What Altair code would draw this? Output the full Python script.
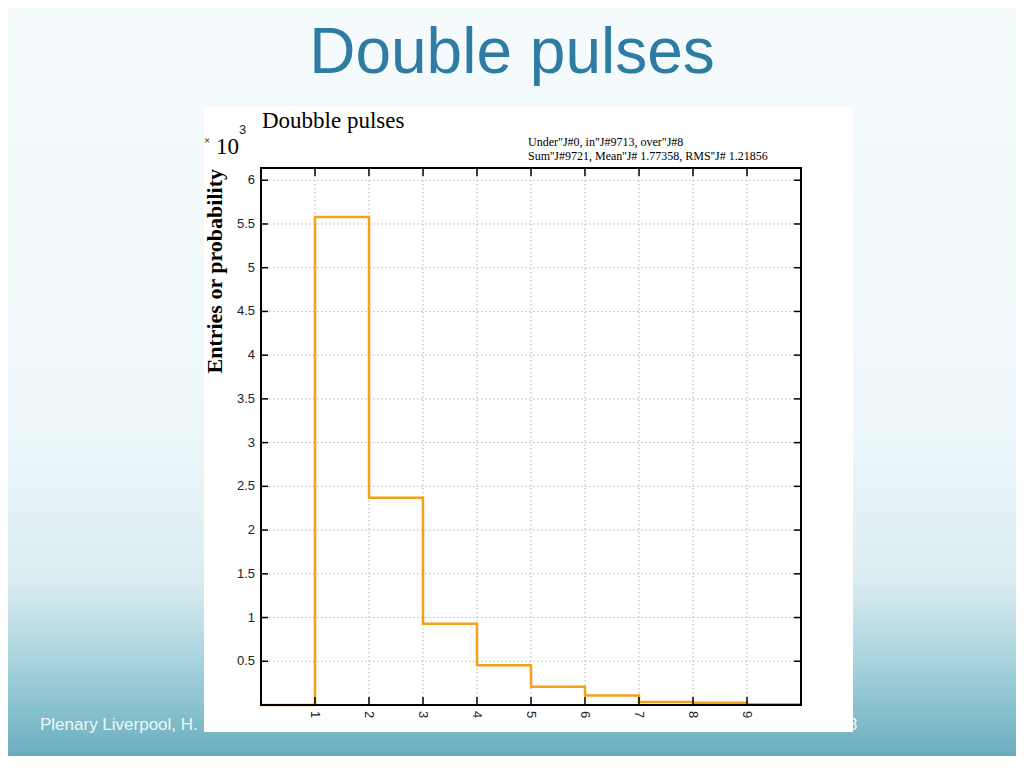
import altair as alt
import pandas as pd

# ---------------- data ----------------
bin_low = [0, 1, 2, 3, 4, 5, 6, 7, 8, 9]
bin_high = 10
entries_k = [0.0, 5.58, 2.37, 0.93, 0.455, 0.21, 0.11, 0.035, 0.025, 0.008]
x_ticks = [1, 2, 3, 4, 5, 6, 7, 8, 9]
x_tick_labels = ["1", "2", "3", "4", "5", "6", "7", "8", "9"]
y_ticks = [0.5, 1, 1.5, 2, 2.5, 3, 3.5, 4, 4.5, 5, 5.5, 6]
y_tick_labels = ["0.5", "1", "1.5", "2", "2.5", "3", "3.5", "4", "4.5", "5", "5.5", "6"]
x_domain = [0, 10]
y_domain = [0, 6.14]

slide_title = "Double pulses"
hist_title = "Doubble pulses"
y_title = "Entries or probability"
stats_line1 = 'Under"J#0, in"J#9713, over"J#8'
stats_line2 = "Sum''J#9721, Mean''J# 1.77358, RMS''J# 1.21856"
exp_mult = "×"
exp_base = "10"
exp_power = "3"
footer = "Plenary Liverpool, H."
page_no = "3"

# ---------------- layout ----------------
W, H = 540, 537          # plot frame
PAD = {"left": 253, "top": 160, "right": 215, "bottom": 51}
SERIF = "Liberation Serif, Times New Roman, serif"
SANS = "Liberation Sans, Arial, sans-serif"
NARROW = "Liberation Sans Narrow, Liberation Sans, Arial, sans-serif"

xscale = alt.Scale(domain=x_domain, nice=False, zero=False)
yscale = alt.Scale(domain=y_domain, nice=False, zero=False)

one = pd.DataFrame({"k": [0]})


def txt(text, x, y, **kw):
    d = pd.DataFrame({"t": [text]})
    kw.setdefault("baseline", "alphabetic")
    return alt.Chart(d).mark_text(**kw).encode(
        x=alt.value(x), y=alt.value(y), text="t:N")


bg = alt.Chart(one).mark_rect(
    fill=alt.Gradient(
        gradient="linear", x1=0, x2=0, y1=0, y2=1,
        stops=[
            alt.GradientStop(color="#f5fbfc", offset=0),
            alt.GradientStop(color="#eef8fa", offset=0.55),
            alt.GradientStop(color="#dcedf2", offset=0.76),
            alt.GradientStop(color="#b3d9e2", offset=0.85),
            alt.GradientStop(color="#8cc3d0", offset=0.93),
            alt.GradientStop(color="#6aadbf", offset=1),
        ],
    )
).encode(x=alt.value(-253), x2=alt.value(755), y=alt.value(-160), y2=alt.value(588))

foot = txt(footer, -221, 562, font=SANS, fontSize=17, color="#eef7f9", align="left")
pnum = txt(page_no, 587, 562, font=SANS, fontSize=17, color="#eef7f9", align="left")

white = alt.Chart(one).mark_rect(fill="white").encode(
    x=alt.value(-57), x2=alt.value(592), y=alt.value(-61), y2=alt.value(564))

title = txt(slide_title, 251, -95, font=SANS, fontSize=64, color="#2e7ca3",
            align="center")

gx = alt.Chart(pd.DataFrame({"v": x_ticks})).mark_rule(
    color="#b4b4b4", strokeWidth=1, strokeDash=[1.5, 2.5]
).encode(x=alt.X("v:Q", scale=xscale, axis=None), y=alt.value(0), y2=alt.value(H))

gy = alt.Chart(pd.DataFrame({"v": y_ticks})).mark_rule(
    color="#b4b4b4", strokeWidth=1, strokeDash=[1.5, 2.5]
).encode(y=alt.Y("v:Q", scale=yscale, axis=None), x=alt.value(0), x2=alt.value(W))

step = pd.DataFrame({
    "x": bin_low + [bin_high],
    "y": entries_k + [entries_k[-1]],
})
hist = alt.Chart(step).mark_line(
    interpolate="step-after", color="#f5a21b", strokeWidth=2.5
).encode(
    x=alt.X("x:Q", scale=xscale, axis=None),
    y=alt.Y("y:Q", scale=yscale, axis=None),
    order="x:Q",
)

frame = alt.Chart(one).mark_rect(
    fillOpacity=0, stroke="black", strokeWidth=2
).encode(x=alt.value(0), x2=alt.value(W), y=alt.value(0), y2=alt.value(H))

ydf = pd.DataFrame({"v": y_ticks, "lab": y_tick_labels})
xdf = pd.DataFrame({"v": x_ticks, "lab": x_tick_labels})
tl = alt.Chart(ydf).mark_rule(color="black", strokeWidth=1.5).encode(
    y=alt.Y("v:Q", scale=yscale, axis=None), x=alt.value(0), x2=alt.value(7))
tr = alt.Chart(ydf).mark_rule(color="black", strokeWidth=1.5).encode(
    y=alt.Y("v:Q", scale=yscale, axis=None), x=alt.value(W - 7), x2=alt.value(W))
tt = alt.Chart(xdf).mark_rule(color="black", strokeWidth=1.5).encode(
    x=alt.X("v:Q", scale=xscale, axis=None), y=alt.value(0), y2=alt.value(8))
tb = alt.Chart(xdf).mark_rule(color="black", strokeWidth=1.5).encode(
    x=alt.X("v:Q", scale=xscale, axis=None), y=alt.value(H - 8), y2=alt.value(H))

ylab = alt.Chart(ydf).mark_text(
    font=NARROW, fontSize=13, color="#222", align="right", baseline="middle"
).encode(y=alt.Y("v:Q", scale=yscale, axis=None), x=alt.value(-6), text="lab:N")
xlab = alt.Chart(xdf).mark_text(
    font=NARROW, fontSize=13, color="#222", align="left", baseline="middle", angle=90
).encode(x=alt.X("v:Q", scale=xscale, axis=None), y=alt.value(H + 6), text="lab:N")

htitle = txt(hist_title, 1, -40, font=SERIF, fontSize=23, color="black", align="left")
e1 = txt(exp_mult, -57, -24, font=SERIF, fontSize=11, color="black", align="left")
e2 = txt(exp_base, -45, -14, font=SERIF, fontSize=23, color="black", align="left")
e3 = txt(exp_power, -22, -34, font=SANS, fontSize=13, color="#222", align="left")
s1 = txt(stats_line1, 267, -22, font=SERIF, fontSize=12, color="black", align="left")
s2 = txt(stats_line2, 267, -8, font=SERIF, fontSize=12, color="black", align="left")
ytl = txt(y_title, -39, 1, font=SERIF, fontSize=22, fontWeight="bold", color="black",
          align="right", angle=270)

chart = alt.layer(
    bg, foot, pnum, white, title, gx, gy, hist, frame, tl, tr, tt, tb,
    ylab, xlab, htitle, e1, e2, e3, s1, s2, ytl,
).properties(
    width=W, height=H,
    autosize=alt.AutoSizeParams(type="none"),
    padding=PAD,
).configure_view(stroke=None)

chart.save("out.html", embed_options={"renderer": "svg", "actions": False})
